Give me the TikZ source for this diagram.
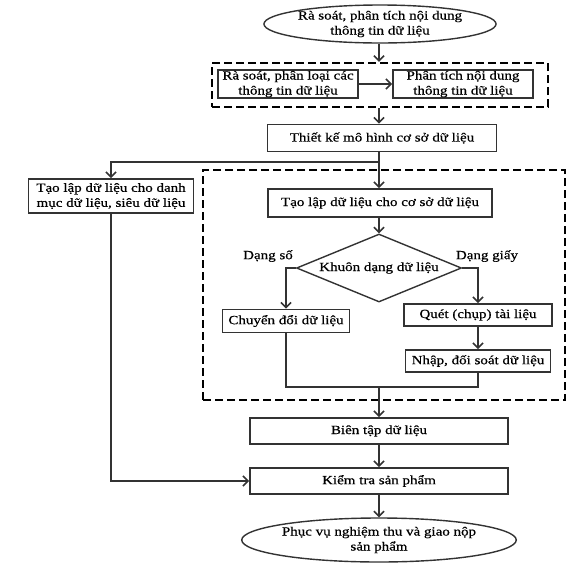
\documentclass[tikz,border=0pt]{standalone}
\usepackage{fontspec}
\setmainfont{Liberation Serif}[FakeStretch=1.2,FakeBold=0.6]
\usetikzlibrary{shapes.geometric,arrows.meta}

\begin{document}
\begin{tikzpicture}[x=1pt,y=-1pt,
    box/.style={draw=black!80,line width=1.8pt,fill=white,inner sep=0pt,align=center,
        font=\fontsize{12.5}{15}\selectfont},
    oval/.style={box,ellipse,line width=1.4pt},
    choice/.style={box,diamond,shape aspect=2.4,line width=1.4pt},
    group/.style={draw=black,line width=2.4pt,dash pattern=on 8pt off 4pt,inner sep=0pt},
    flow/.style={draw=black!80,line width=1.6pt,-{Straight Barb[length=5pt,width=10pt]}},
    link/.style={draw=black!80,line width=1.6pt},
    lbl/.style={font=\fontsize{12.5}{15}\selectfont}]
    \useasboundingbox (0,0) rectangle (587,582);
    % top of the flow
    \node[oval,minimum width=230,minimum height=38] (start) at (380,24)
        {Rà soát, phân tích nội dung\\thông tin dữ liệu};
    \node[group,minimum width=336,minimum height=44] (review) at (380,85) {};
    \node[box,minimum width=140,minimum height=28] (sort) at (288,84)
        {Rà soát, phân loại các\\thông tin dữ liệu};
    \node[box,minimum width=140,minimum height=28] (analyse) at (463,84)
        {Phân tích nội dung\\thông tin dữ liệu};
    \node[box,minimum width=229,minimum height=27] (design) at (382,138)
        {Thiết kế mô hình cơ sở dữ liệu};
    % left branch
    \node[box,minimum width=165,minimum height=34] (meta) at (111,196)
        {Tạo lập dữ liệu cho danh\\mục dữ liệu, siêu dữ liệu};
    % dashed block
    \node[group,minimum width=362,minimum height=230] (build) at (384,285) {};
    \node[box,minimum width=224,minimum height=28] (create) at (380,203)
        {Tạo lập dữ liệu cho cơ sở dữ liệu};
    \node[choice,minimum width=165,minimum height=68] (format) at (379,268)
        {Khuôn dạng dữ liệu};
    \node[lbl] (digital) at (268,256) {Dạng số};
    \node[lbl] (paper) at (487,256) {Dạng giấy};
    \node[box,minimum width=127,minimum height=23] (convert) at (286,321)
        {Chuyển đổi dữ liệu};
    \node[box,minimum width=148,minimum height=22] (scan) at (478,315)
        {Quét (chụp) tài liệu};
    \node[box,minimum width=145,minimum height=22] (enter) at (478,361)
        {Nhập, đối soát dữ liệu};
    % bottom of the flow
    \node[box,minimum width=258,minimum height=26] (edit) at (379,431)
        {Biên tập dữ liệu};
    \node[box,minimum width=258,minimum height=26] (check) at (379,481)
        {Kiểm tra sản phẩm};
    \node[oval,minimum width=263,minimum height=44] (finish) at (379,540)
        {Phục vụ nghiệm thu và giao nộp\\sản phẩm};
    \coordinate (split) at (379,162);
    \coordinate (merge) at (379,387);
    % connectors
    \draw[flow] (start.south -| split) -- (review.north -| split);
    \draw[flow] (sort) -- (analyse);
    \draw[flow] (review.south -| split) -- (design.north -| split);
    \draw[link] (design.south -| split) -- (split);
    \draw[flow] (split) -| (meta.north);
    \draw[flow] (split) -- (create.north -| split);
    \draw[flow] (create.south -| split) -- (format.north);
    \draw[flow] (format.west) -| (convert.north);
    \draw[flow] (format.east) -| (scan.north);
    \draw[flow] (scan) -- (enter);
    \draw[link] (convert.south) |- (merge) -| (enter.south);
    \draw[flow] (merge) -- (edit.north -| merge);
    \draw[flow] (edit) -- (check);
    \draw[flow] (meta.south) |- (check.west);
    \draw[flow] (check) -- (finish);
\end{tikzpicture}
\end{document}
